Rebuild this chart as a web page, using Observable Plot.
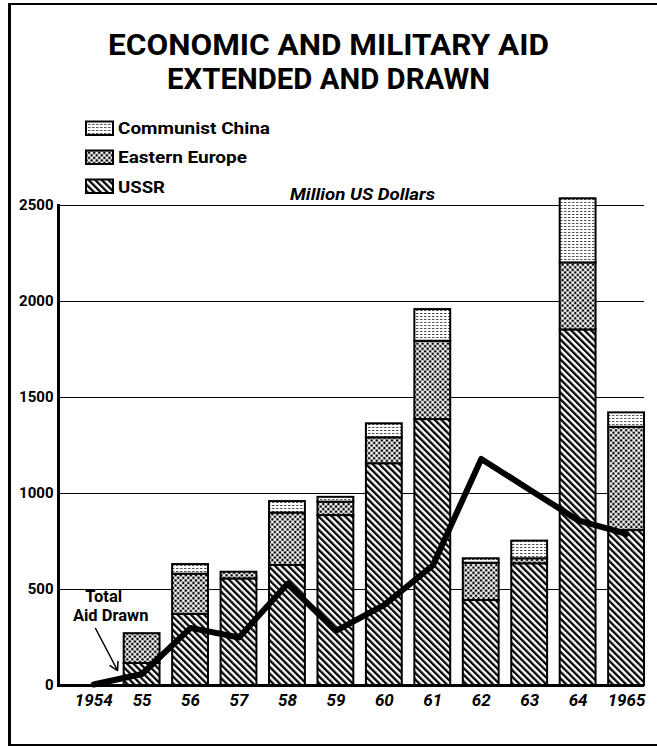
<!DOCTYPE html>
<html>
<head>
<meta charset="utf-8">
<script src="https://cdn.jsdelivr.net/npm/d3@7"></script>
<script src="https://cdn.jsdelivr.net/npm/@observablehq/plot@0.6"></script>
<style>
  html, body { margin: 0; padding: 0; background: white; overflow: hidden; }
  #wrap { position: relative; width: 657px; height: 746px; overflow: hidden; }
  #frame { position: absolute; left: 8px; top: 3px; width: 700px; height: 739px;
           border-left: 3px solid black; border-top: 2.5px solid black; border-bottom: 2.5px solid black; }
  #chart, #overlay { position: absolute; left: 0; top: 0; }
</style>
</head>
<body>
<div id="wrap">
  <div id="frame"></div>
  <div id="chart"></div>
  <svg id="overlay" width="657" height="205" font-family="Roboto, 'DejaVu Sans', sans-serif"></svg>
</div>
<script>
// ---- data (million US dollars) ----
const years = ["1954","1955","1956","1957","1958","1959","1960","1961","1962","1963","1964","1965"];
const tickLabels = ["1954","55","56","57","58","59","60","61","62","63","64","1965"];
const seriesNames = ["USSR", "Eastern Europe", "Communist China"];
const ussr           = [0, 115, 370, 555, 625, 885, 1155, 1385, 443, 634, 1852, 807];
const easternEurope  = [0, 155, 210,  35, 273,  70,  135,  408, 194,  26,  349, 538];
const communistChina = [0,   0,  50,   0,  60,  25,   73,  165,  23,  92,  334,  75];
const totalAidDrawn  = [5,  60, 300, 250, 530, 285,  420,  625, 1180, 1020, 860, 790];
const yTicks = [0, 500, 1000, 1500, 2000, 2500];

const titleLines = ["ECONOMIC  AND  MILITARY  AID", "EXTENDED  AND  DRAWN"];
const legendLabels = ["Communist China", "Eastern Europe", "USSR"];
const unitLabel = "Million US Dollars";
const annotationLines = ["Total", "Aid Drawn"];

// ---- tables built from the arrays ----
const seriesValues = [ussr, easternEurope, communistChina];
const stacked = [];
seriesNames.forEach((s, k) => years.forEach((y, i) => stacked.push({year: y, series: s, value: seriesValues[k][i]})));
const drawn = years.map((y, i) => ({year: y, value: totalAidDrawn[i]}));
const labelOf = new Map(years.map((y, i) => [y, tickLabels[i]]));
const annotation = [{year: "1954", value: 462, label: annotationLines[0], dx: 10},
                    {year: "1954", value: 366, label: annotationLines[1], dx: 17}];

const patternIds = ["url(#p-ussr)", "url(#p-ee)", "url(#p-china)"];

const plot = Plot.plot({
  width: 657,
  height: 746,
  marginTop: 205,
  marginBottom: 61,
  marginLeft: 58,
  marginRight: 13,
  style: {background: "transparent", fontFamily: "Roboto, 'DejaVu Sans', sans-serif", color: "black"},
  x: {type: "band", domain: years, paddingInner: 0.26, paddingOuter: 0.178, align: 1, round: false, label: null},
  y: {domain: [0, 2500], label: null},
  color: {domain: seriesNames, range: patternIds},
  marks: [
    Plot.ruleY(yTicks.slice(1), {stroke: "black", strokeWidth: 1}),
    Plot.barY(stacked, Plot.stackY({x: "year", y: "value", fill: "series", stroke: "black", strokeWidth: 2})),
    Plot.line(drawn, {x: "year", y: "value", stroke: "black", strokeWidth: 6, strokeLinejoin: "round"}),
    Plot.ruleY([0], {stroke: "black", strokeWidth: 3}),
    Plot.frame({anchor: "left", stroke: "black", strokeWidth: 3}),
    Plot.axisY({ticks: yTicks, tickSize: 0, tickPadding: 5, fontSize: 15, fontWeight: "bold",
                tickFormat: d => String(d), label: null}),
    Plot.axisX({tickSize: 0, tickPadding: 8, fontSize: 17, fontWeight: "bold", fontStyle: "italic",
                tickFormat: d => labelOf.get(d), label: null}),
    ...annotation.map(a => Plot.text([a], {x: "year", y: "value", text: "label", dx: a.dx,
               fontSize: 16.5, fontWeight: "bold", textAnchor: "middle"})),
    Plot.arrow([{x1: "1954", y1: 297, x2: "1955", y2: -185}], {x1: "x1", y1: "y1", x2: "x2", y2: "y2",
               dx: 1.9, insetEnd: 57, bend: 0, strokeWidth: 1.5, headLength: 9, stroke: "black"})
  ]
});

const defs = document.createElementNS("http://www.w3.org/2000/svg", "defs");
defs.innerHTML = `
  <pattern id="p-ussr" patternUnits="userSpaceOnUse" width="4.7" height="4.7" patternTransform="rotate(-45)">
    <rect width="4.7" height="4.7" fill="white"/>
    <rect width="2.3" height="4.7" fill="black"/>
  </pattern>
  <pattern id="p-ee" patternUnits="userSpaceOnUse" width="3.6" height="3.6" patternTransform="rotate(45)">
    <rect width="3.6" height="3.6" fill="white"/>
    <circle cx="1.8" cy="1.8" r="1.35" fill="black"/>
  </pattern>
  <pattern id="p-china" patternUnits="userSpaceOnUse" width="4" height="3">
    <rect width="4" height="3" fill="white"/>
    <rect x="0" y="1" width="2.5" height="1" fill="#555"/>
  </pattern>`;
plot.insertBefore(defs, plot.firstChild);
document.getElementById("chart").appendChild(plot);

// ---- title, legend and unit label (above the plot area) ----
const ov = d3.select("#overlay");
const titleSpecs = [{y: 55, w: 441}, {y: 89, w: 323}];
titleLines.forEach((t, i) => {
  ov.append("text").attr("x", 328.5).attr("y", titleSpecs[i].y).attr("text-anchor", "middle")
    .attr("font-size", 30).attr("font-weight", "bold")
    .attr("textLength", titleSpecs[i].w).attr("lengthAdjust", "spacingAndGlyphs").text(t);
});
const legendRows = [{y: 121.5, base: 133.5, w: 152, fill: patternIds[2]},
                    {y: 150.5, base: 162.7, w: 129, fill: patternIds[1]},
                    {y: 179.5, base: 192.7, w: 47, fill: patternIds[0]}];
legendLabels.forEach((lab, i) => {
  const r = legendRows[i];
  ov.append("rect").attr("x", 86).attr("y", r.y).attr("width", 27).attr("height", 13.5)
    .attr("fill", r.fill).attr("stroke", "black").attr("stroke-width", 2);
  ov.append("text").attr("x", 118).attr("y", r.base).attr("font-size", 16.5).attr("font-weight", "bold")
    .attr("textLength", r.w).attr("lengthAdjust", "spacingAndGlyphs").text(lab);
});
ov.append("text").attr("x", 290).attr("y", 200).attr("font-size", 16).attr("font-weight", "bold")
  .attr("font-style", "italic").attr("textLength", 145).attr("lengthAdjust", "spacingAndGlyphs").text(unitLabel);
</script>
</body>
</html>
